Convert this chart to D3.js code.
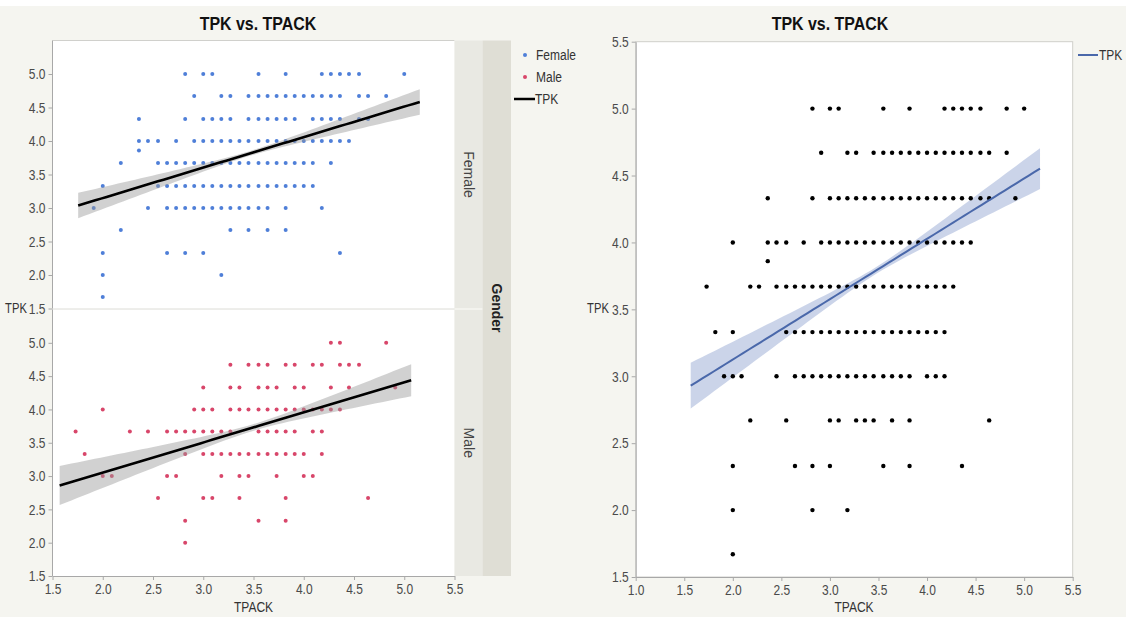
<!DOCTYPE html>
<html><head><meta charset="utf-8">
<script src="https://cdn.jsdelivr.net/npm/d3@7"></script>
<style>
html,body{margin:0;padding:0;background:#fff;}
svg{display:block;font-family:"Liberation Sans Narrow","Arial Narrow","Liberation Sans",Arial,sans-serif;}
</style></head><body>
<svg id="chart" width="1126" height="622"></svg>
<script>
// ---------------- DATA ----------------
// TPK levels (rows) and the TPACK values observed at each level
const femaleTPK = [5.0, 4.67, 4.33, 4.0, 3.86, 3.67, 3.33, 3.0, 2.67, 2.33, 2.0, 1.67];
const femaleTPACK = [
  [2.82,3.0,3.09,3.55,3.82,4.18,4.27,4.36,4.45,4.55,5.0],
  [2.91,3.18,3.27,3.45,3.55,3.64,3.73,3.82,3.91,4.0,4.09,4.18,4.27,4.36,4.55,4.64,4.82],
  [2.36,2.82,3.0,3.09,3.18,3.27,3.45,3.55,3.64,3.73,3.82,3.91,4.09,4.18,4.27,4.36,4.55,4.64],
  [2.36,2.45,2.55,2.73,2.91,3.0,3.09,3.18,3.27,3.36,3.45,3.55,3.64,3.73,3.82,3.91,4.0,4.09,4.18,4.27,4.36,4.45],
  [2.36],
  [2.18,2.55,2.64,2.73,2.82,2.91,3.0,3.09,3.18,3.27,3.36,3.45,3.55,3.64,3.73,3.82,3.91,4.0,4.09,4.27],
  [2.0,2.55,2.64,2.73,2.82,2.91,3.0,3.09,3.18,3.27,3.36,3.45,3.55,3.64,3.73,3.82,3.91,4.0,4.09],
  [1.91,2.45,2.64,2.73,2.82,2.91,3.0,3.09,3.18,3.27,3.36,3.45,3.55,3.64,3.82,4.18],
  [2.18,3.27,3.45,3.64,3.82],
  [2.0,2.64,2.82,3.0,4.36],
  [2.0,3.18],
  [2.0]
];
const maleTPK = [5.0, 4.67, 4.33, 4.0, 3.67, 3.33, 3.0, 2.67, 2.33, 2.0];
const maleTPACK = [
  [4.27,4.36,4.82],
  [3.27,3.45,3.55,3.64,3.82,3.91,4.09,4.18,4.36,4.45,4.55],
  [3.0,3.27,3.36,3.55,3.64,3.73,3.91,4.0,4.27,4.45,4.91],
  [2.0,2.91,3.0,3.09,3.27,3.36,3.45,3.55,3.64,3.73,3.82,3.91,4.0,4.09,4.18,4.27,4.36],
  [1.73,2.27,2.45,2.64,2.73,2.82,2.91,3.0,3.09,3.18,3.27,3.55,3.64,3.73,3.82,3.91,4.09,4.18],
  [1.82,2.82,3.0,3.09,3.18,3.27,3.36,3.45,3.55,3.64,3.73,3.82,3.91,4.0,4.18],
  [2.0,2.09,2.64,2.73,3.18,3.36,3.45,3.73,4.0,4.09],
  [2.55,3.0,3.09,3.36,3.82,4.64],
  [2.82,3.55,3.82],
  [2.82]
];
// Linear fits (Female, Male, All)
const fitNames      = ["Female", "Male", "All"];
const fitIntercepts = [2.238, 2.148, 2.223];
const fitSlopes     = [0.455, 0.452, 0.451];
const bandCenters   = [3.45, 3.50, 3.47];
const bandMinHalf   = [0.035, 0.05, 0.025];
const bandSpread    = [0.11, 0.15, 0.089];
// Tick labels
const leftXTicks  = [1.5,2.0,2.5,3.0,3.5,4.0,4.5,5.0,5.5];
const leftYTicks  = [1.5,2.0,2.5,3.0,3.5,4.0,4.5,5.0];
const rightXTicks = [1.0,1.5,2.0,2.5,3.0,3.5,4.0,4.5,5.0,5.5];
const rightYTicks = [1.5,2.0,2.5,3.0,3.5,4.0,4.5,5.0,5.5];
const genders = ["Female","Male"];

// ---------------- HELPERS ----------------
function toPoints(tpk, tpack){
  const pts=[];
  tpk.forEach((y,i)=>tpack[i].forEach(x=>pts.push({x:x,y:y})));
  return pts;
}
const femalePts = toPoints(femaleTPK, femaleTPACK);
const malePts = toPoints(maleTPK, maleTPACK);
const allMap = new Map();
femalePts.concat(malePts).forEach(p=>allMap.set(p.x.toFixed(2)+"_"+p.y.toFixed(2), p));
const allPts = Array.from(allMap.values());

function fitRange(pts){
  const e=d3.extent(pts,d=>d.x), pad=(e[1]-e[0])*0.05;
  return [e[0]-pad, e[1]+pad];
}
function fitData(i, pts){
  const r=fitRange(pts), n=60, out=[];
  for(let j=0;j<=n;j++){
    const x=r[0]+(r[1]-r[0])*j/n;
    const yh=fitIntercepts[i]+fitSlopes[i]*x;
    const hw=Math.sqrt(bandMinHalf[i]**2 + (bandSpread[i]*(x-bandCenters[i]))**2);
    out.push({x:x,y:yh,lo:yh-hw,hi:yh+hw});
  }
  return out;
}
// emulate a condensed face by squeezing text horizontally around its anchor
function squeeze(sel, sx){
  sel.each(function(){
    const t=d3.select(this);
    const x=+(t.attr("x")||0), y=+(t.attr("y")||0);
    t.attr("x",null).attr("y",null)
     .attr("transform",`translate(${x},${y}) scale(${sx},1)`);
  });
}

const svg=d3.select("#chart");
const W=1126,H=622;
svg.append("rect").attr("width",W).attr("height",H).attr("fill","#fff");
svg.append("rect").attr("x",0).attr("y",6).attr("width",W).attr("height",611).attr("fill","#f5f5f0");

const axisColor="#a8a8a8", labelColor="#4a4a4a";
const SQ=0.8;
function styleAxis(g){
  g.select(".domain").attr("stroke",axisColor);
  g.selectAll(".tick line").attr("stroke",axisColor);
  g.selectAll(".tick text").attr("fill",labelColor).attr("font-size",15)
    .attr("font-family","'Liberation Sans',Arial,sans-serif");
  squeeze(g.selectAll(".tick text"), SQ);
}
const fmt=d3.format(".1f");
function label(x,y,txt,opt){
  const t=svg.append("text").attr("x",x).attr("y",y)
    .attr("font-family","'Liberation Sans',Arial,sans-serif")
    .attr("font-size",opt.size||15).attr("fill",opt.fill||"#333")
    .attr("text-anchor",opt.anchor||"start")
    .attr("dominant-baseline",opt.baseline||"auto")
    .attr("font-weight",opt.weight||"normal").text(txt);
  squeeze(t, opt.sx||SQ);
  return t;
}

// ---------------- LEFT CHART ----------------
const xL=d3.scaleLinear().domain([1.5,5.5]).range([52.5,454.5]);
const yPanels={
  Female:d3.scaleLinear().domain([1.5,5.5]).range([308.5,40.5]),
  Male:d3.scaleLinear().domain([1.5,5.5]).range([576,309.5])
};
const ptsByGender={Female:femalePts, Male:malePts};
const dotColor={Female:"#4f7fd8", Male:"#d8466a"};

svg.append("rect").attr("x",xL.range()[0]).attr("y",40.5)
  .attr("width",xL.range()[1]-xL.range()[0]).attr("height",576-40.5).attr("fill","#fff");
svg.append("line").attr("x1",52.5).attr("x2",454.5).attr("y1",40.5).attr("y2",40.5).attr("stroke","#d0d0cc");
svg.append("line").attr("x1",52.5).attr("x2",511).attr("y1",309).attr("y2",309).attr("stroke","#dcdcd6");

genders.forEach((g,gi)=>{
  const y=yPanels[g];
  const fd=fitData(gi, ptsByGender[g]);
  const pg=svg.append("g");
  pg.selectAll("circle").data(ptsByGender[g]).join("circle")
    .attr("cx",d=>xL(d.x)).attr("cy",d=>y(d.y)).attr("r",2.0).attr("fill",dotColor[g]);
  pg.append("path").datum(fd)
    .attr("d",d3.area().x(d=>xL(d.x)).y0(d=>y(d.lo)).y1(d=>y(d.hi)))
    .attr("fill","#9a9a9a").attr("fill-opacity",0.45);
  pg.append("path").datum(fd)
    .attr("d",d3.line().x(d=>xL(d.x)).y(d=>y(d.y)))
    .attr("fill","none").attr("stroke","#000").attr("stroke-width",2.6);
  const ax=svg.append("g").attr("transform","translate(52.5,0)")
    .call(d3.axisLeft(y).tickValues(leftYTicks).tickFormat(fmt).tickSize(4).tickSizeOuter(0).tickPadding(3));
  styleAxis(ax);
  ax.select(".domain").attr("d","M0,"+y.range()[0]+"V"+y.range()[1]);
});
const axB=svg.append("g").attr("transform","translate(0,576)")
  .call(d3.axisBottom(xL).tickValues(leftXTicks).tickFormat(fmt).tickSize(4).tickSizeOuter(0).tickPadding(3));
styleAxis(axB);

// strips
svg.append("rect").attr("x",454.5).attr("y",40.5).attr("width",28).attr("height",535.5).attr("fill","#e9e9e3");
svg.append("rect").attr("x",482.5).attr("y",40.5).attr("width",28.5).attr("height",535.5).attr("fill","#dfded5");
svg.append("line").attr("x1",454.5).attr("x2",482.5).attr("y1",309).attr("y2",309).attr("stroke","#f6f6f2").attr("stroke-width",1.5);
genders.forEach(g=>{
  const y=yPanels[g], cy=(y.range()[0]+y.range()[1])/2;
  svg.append("text").attr("transform",`translate(468.5,${cy}) rotate(90)`)
    .attr("text-anchor","middle").attr("dominant-baseline","central")
    .attr("font-family","'Liberation Sans',Arial,sans-serif").attr("font-size",14).attr("fill","#444").text(g);
});
svg.append("text").attr("transform","translate(496.5,308) rotate(90)")
  .attr("text-anchor","middle").attr("dominant-baseline","central")
  .attr("font-family","'Liberation Sans',Arial,sans-serif").attr("font-weight","bold")
  .attr("font-size",14).attr("fill","#222").text("Gender");

// legend left
genders.forEach((g,i)=>{
  svg.append("circle").attr("cx",525).attr("cy",55+i*22).attr("r",2.0).attr("fill",dotColor[g]);
  label(536,55+i*22,g,{baseline:"central",size:15});
});
svg.append("line").attr("x1",514).attr("x2",535).attr("y1",99).attr("y2",99).attr("stroke","#000").attr("stroke-width",2.5);
label(535,99,"TPK",{baseline:"central",size:15});

// titles / labels left
label(258,30,"TPK vs. TPACK",{anchor:"middle",size:19,weight:"bold",fill:"#111",sx:0.84});
label(16,309,"TPK",{anchor:"middle",baseline:"central",size:14});
label(253.5,612,"TPACK",{anchor:"middle",size:15});

// ---------------- RIGHT CHART ----------------
const xR=d3.scaleLinear().domain([1.0,5.5]).range([635.7,1072.7]);
const yR=d3.scaleLinear().domain([1.5,5.5]).range([577,41.7]);
svg.append("rect").attr("x",635.7).attr("y",41.7).attr("width",437).attr("height",577-41.7)
  .attr("fill","#fff").attr("stroke","#cfcfca");
const fa=fitData(2, allPts);
svg.append("path").datum(fa)
  .attr("d",d3.area().x(d=>xR(d.x)).y0(d=>yR(d.lo)).y1(d=>yR(d.hi)))
  .attr("fill","#b9c6e2").attr("fill-opacity",0.75);
svg.append("g").selectAll("circle").data(allPts).join("circle")
  .attr("cx",d=>xR(d.x)).attr("cy",d=>yR(d.y)).attr("r",2.2).attr("fill","#000");
svg.append("path").datum(fa)
  .attr("d",d3.line().x(d=>xR(d.x)).y(d=>yR(d.y)))
  .attr("fill","none").attr("stroke","#4a68aa").attr("stroke-width",2);
const axRY=svg.append("g").attr("transform","translate(635.7,0)")
  .call(d3.axisLeft(yR).tickValues(rightYTicks).tickFormat(fmt).tickSize(4).tickSizeOuter(0).tickPadding(3));
styleAxis(axRY);
const axRX=svg.append("g").attr("transform","translate(0,577)")
  .call(d3.axisBottom(xR).tickValues(rightXTicks).tickFormat(fmt).tickSize(4).tickSizeOuter(0).tickPadding(3));
styleAxis(axRX);

label(830,30,"TPK vs. TPACK",{anchor:"middle",size:19,weight:"bold",fill:"#111",sx:0.84});
label(598,309,"TPK",{anchor:"middle",baseline:"central",size:14});
label(854,612,"TPACK",{anchor:"middle",size:15});
svg.append("line").attr("x1",1078).attr("x2",1098).attr("y1",55).attr("y2",55).attr("stroke","#4a68aa").attr("stroke-width",2);
label(1099,55,"TPK",{baseline:"central",size:15});
</script>
</body></html>
